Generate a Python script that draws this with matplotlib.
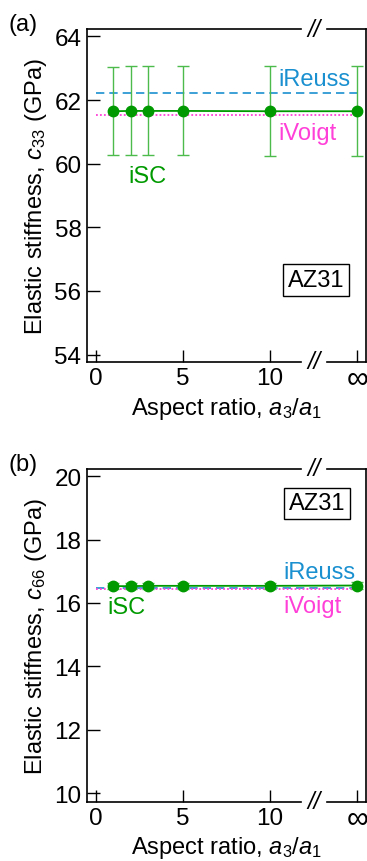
#!/usr/bin/env python3

import matplotlib
matplotlib.use('Agg')
import matplotlib.pyplot as plt
import matplotlib.transforms as mtrans

plt.rcParams['font.family'] = ['Liberation Sans', 'DejaVu Sans']
plt.rcParams['mathtext.fontset'] = 'custom'
plt.rcParams['mathtext.rm'] = 'Liberation Sans'
plt.rcParams['mathtext.it'] = 'Liberation Sans:italic'

# aspect ratio a3/a1 (infinity placed at 15 on the axis)
ratio = [1, 2, 3, 5, 10, 15]
xtick_pos = [0, 5, 10, 15]
xtick_lab = ['0', '5', '10', '\u221e']

# c33 (GPa)
c33_isc = [61.65, 61.66, 61.66, 61.66, 61.65, 61.65]
c33_err = [1.39, 1.40, 1.40, 1.40, 1.42, 1.42]
c33_reuss = 62.23
c33_voigt = 61.52

# c66 (GPa)
c66_isc = [16.53, 16.53, 16.54, 16.54, 16.54, 16.55]
c66_err = [0.10, 0.10, 0.10, 0.10, 0.10, 0.10]
c66_reuss = 16.48
c66_voigt = 16.45

GREEN = '#009a00'
LGREEN = '#4cbb4c'
BLUE = '#1a90d0'
MAG = '#ff40d8'
FS = 17
TFS = 17.5

fig = plt.figure(figsize=(3.67, 8.62), dpi=100)


def panel(rect, isc, err, reuss, voigt, ylim, yticks, ylab, tag, box_pos, lab_pos):
    ax = fig.add_axes(rect)
    ax.hlines(reuss, 0, 15, colors=BLUE, linestyles=(0, (5, 3)), lw=1.2, zorder=2)
    ax.hlines(voigt, 0, 15, colors=MAG, linestyles=(0, (1, 1.2)), lw=1.3, zorder=2)
    ax.errorbar(ratio, isc, yerr=err, fmt='none', ecolor=LGREEN, elinewidth=1.0,
                capsize=4.5, capthick=1.0, zorder=3)
    ax.plot(ratio, isc, '-o', color=GREEN, ms=7.5, lw=1.3, zorder=4)

    ax.set_xlim(-0.5, 15.5)
    ax.set_ylim(*ylim)
    ax.set_yticks(yticks)
    ax.set_xticks(xtick_pos)
    ax.set_xticklabels(xtick_lab)
    ax.tick_params(direction='in', length=9, width=1, labelsize=TFS, pad=4,
                   colors='black')
    inf_lab = ax.get_xticklabels()[-1]
    inf_lab.set_fontsize(22)
    inf_lab.set_y(0.012)
    ax.set_ylabel(ylab, fontsize=FS, labelpad=4)
    ax.set_xlabel(r'Aspect ratio, $a_3/a_1$', fontsize=FS, labelpad=1)

    # broken top/bottom spines
    ax.spines['top'].set_visible(False)
    ax.spines['bottom'].set_visible(False)
    for s in ['left', 'right']:
        ax.spines[s].set_linewidth(1.2)
    tr = mtrans.blended_transform_factory(ax.transData, ax.transAxes)
    for yy in [0, 1]:
        ax.plot([-0.5, 11.75], [yy, yy], color='black', lw=1.2, transform=tr,
                clip_on=False, zorder=5)
        ax.plot([13.25, 15.5], [yy, yy], color='black', lw=1.2, transform=tr,
                clip_on=False, zorder=5)
        ax.text(12.5, yy, '//', transform=tr, ha='center', va='center',
                fontsize=FS, style='italic', zorder=5)

    ax.text(-0.28, 1.015, tag, transform=ax.transAxes, fontsize=FS, ha='left', va='center')
    ax.text(box_pos[0], box_pos[1], 'AZ31', fontsize=FS, ha='center', va='center',
            bbox=dict(boxstyle='square,pad=0.2', fc='white', ec='black', lw=1))
    ax.text(lab_pos[0][0], lab_pos[0][1], 'iSC', color=GREEN, fontsize=FS,
            ha='left', va='center')
    ax.text(lab_pos[1][0], lab_pos[1][1], 'iReuss', color=BLUE, fontsize=FS,
            ha='left', va='center')
    ax.text(lab_pos[2][0], lab_pos[2][1], 'iVoigt', color=MAG, fontsize=FS,
            ha='left', va='center')
    return ax


panel([0.237, 0.579, 0.760, 0.386], c33_isc, c33_err, c33_reuss, c33_voigt,
      (53.77, 64.23), [54, 56, 58, 60, 62, 64],
      r'Elastic stiffness, $c_{33}$ (GPa)', '(a)', (12.65, 56.35),
      [(1.9, 59.6), (10.5, 62.65), (10.5, 60.98)])
panel([0.237, 0.069, 0.760, 0.386], c66_isc, c66_err, c66_reuss, c66_voigt,
      (9.74, 20.23), [10, 12, 14, 16, 18, 20],
      r'Elastic stiffness, $c_{66}$ (GPa)', '(b)', (12.7, 19.14),
      [(0.65, 15.88), (10.77, 16.99), (10.77, 15.9)])

plt.savefig('out.png', dpi=100)
plt.close()
